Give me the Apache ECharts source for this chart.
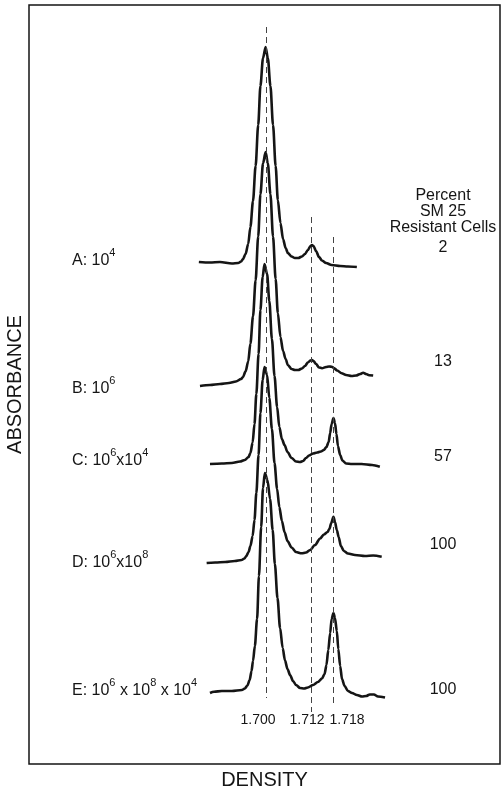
<!DOCTYPE html>
<html>
<head>
<meta charset="utf-8">
<script src="https://cdn.jsdelivr.net/npm/echarts@6.0.0/dist/echarts.min.js"></script>
<style>
  html, body { margin: 0; padding: 0; background: #fff; }
  #chart { width: 503px; height: 792px; }
</style>
</head>
<body>
<div id="chart"></div>
<script>
// [density, absorbance above the trace's own baseline]
const traceA = [
  [1.6818, 0.01], [1.6848, 0.005], [1.6875, 0.01], [1.6907, -0.005], [1.6924, 0.0],
  [1.6932, 0.015], [1.6937, 0.04], [1.6944, 0.09], [1.6951, 0.19], [1.6957, 0.36],
  [1.6964, 0.62], [1.6971, 0.97], [1.6978, 1.38], [1.6984, 1.77], [1.6991, 2.05],
  [1.6998, 2.16], [1.7004, 2.05], [1.7011, 1.77], [1.7018, 1.38], [1.7025, 0.97],
  [1.7031, 0.63], [1.7038, 0.40], [1.7045, 0.24], [1.7052, 0.15], [1.7058, 0.10],
  [1.7068, 0.065], [1.7077, 0.05], [1.7086, 0.05], [1.7096, 0.065], [1.7104, 0.09],
  [1.7112, 0.13], [1.7119, 0.17], [1.7123, 0.18], [1.7127, 0.17], [1.7134, 0.12],
  [1.7142, 0.06], [1.7150, 0.025], [1.7161, 0.0], [1.7176, -0.02], [1.7199, -0.03],
  [1.7220, -0.035], [1.7244, -0.04]
]
const traceB = [
  [1.6821, -0.01], [1.6848, 0.0], [1.6875, 0.01], [1.6899, 0.02], [1.6918, 0.035],
  [1.6932, 0.06], [1.6937, 0.08], [1.6944, 0.136], [1.6951, 0.235], [1.6957, 0.414],
  [1.6964, 0.686], [1.6971, 1.046], [1.6978, 1.484], [1.6984, 1.908], [1.6991, 2.216],
  [1.6998, 2.33], [1.7004, 2.216], [1.7011, 1.908], [1.7018, 1.484], [1.7025, 1.06],
  [1.7031, 0.72], [1.7038, 0.48], [1.7045, 0.34], [1.7052, 0.26], [1.7058, 0.20],
  [1.7068, 0.16], [1.7077, 0.15], [1.7086, 0.15], [1.7096, 0.165], [1.7104, 0.19],
  [1.7112, 0.225], [1.7119, 0.245], [1.7123, 0.25], [1.7127, 0.24], [1.7134, 0.21],
  [1.7142, 0.175], [1.7150, 0.168], [1.7161, 0.18], [1.7169, 0.185], [1.7176, 0.183],
  [1.7182, 0.17], [1.7191, 0.145], [1.7203, 0.117], [1.7215, 0.10], [1.7230, 0.09],
  [1.7242, 0.095], [1.7253, 0.11], [1.7261, 0.123], [1.7269, 0.11], [1.7277, 0.098],
  [1.7288, 0.095]
]
const traceC = [
  [1.6848, 0.0], [1.6880, 0.005], [1.6907, 0.01], [1.6929, 0.025], [1.6942, 0.04],
  [1.6952, 0.07], [1.6957, 0.11], [1.6963, 0.215], [1.6968, 0.40], [1.6973, 0.70],
  [1.6979, 1.10], [1.6984, 1.54], [1.6990, 1.87], [1.6995, 2.0], [1.7002, 1.90],
  [1.7008, 1.63], [1.7015, 1.25], [1.7022, 0.88], [1.7029, 0.57], [1.7035, 0.37],
  [1.7042, 0.25], [1.7049, 0.19], [1.7057, 0.12], [1.7068, 0.06], [1.7080, 0.025],
  [1.7091, 0.02], [1.7099, 0.03], [1.7107, 0.06], [1.7115, 0.085], [1.7126, 0.105],
  [1.7137, 0.115], [1.7147, 0.125], [1.7155, 0.14], [1.7162, 0.17], [1.7168, 0.22],
  [1.7172, 0.31], [1.7176, 0.40], [1.7181, 0.46], [1.7185, 0.41], [1.7189, 0.30],
  [1.7193, 0.18], [1.7199, 0.09], [1.7205, 0.035], [1.7215, 0.005], [1.7231, 0.0],
  [1.7257, 0.0], [1.7285, -0.01], [1.7306, -0.027]
]
const traceD = [
  [1.6839, 0.0], [1.6862, 0.005], [1.6889, 0.01], [1.6915, 0.02], [1.6933, 0.03],
  [1.6941, 0.045], [1.6946, 0.07], [1.6952, 0.11], [1.6957, 0.17], [1.6963, 0.27],
  [1.6968, 0.43], [1.6973, 0.70], [1.6979, 1.08], [1.6984, 1.50], [1.6990, 1.83],
  [1.6995, 1.96], [1.7002, 1.88], [1.7008, 1.65], [1.7015, 1.34], [1.7022, 1.0],
  [1.7029, 0.74], [1.7035, 0.56], [1.7042, 0.42], [1.7049, 0.31], [1.7057, 0.22],
  [1.7068, 0.155], [1.7080, 0.11], [1.7095, 0.097], [1.7107, 0.105], [1.7118, 0.13],
  [1.7131, 0.18], [1.7145, 0.245], [1.7155, 0.285], [1.7165, 0.31], [1.7170, 0.34],
  [1.7175, 0.40], [1.7181, 0.463], [1.7185, 0.41], [1.7190, 0.33], [1.7195, 0.26],
  [1.7201, 0.17], [1.7209, 0.12], [1.7220, 0.095], [1.7239, 0.08], [1.7266, 0.07],
  [1.7288, 0.075], [1.7311, 0.063]
]
const traceE = [
  [1.6848, -0.02], [1.6859, -0.007], [1.6880, 0.0], [1.6907, 0.0], [1.6934, 0.01],
  [1.6942, 0.025], [1.6949, 0.055], [1.6955, 0.11], [1.6960, 0.20], [1.6964, 0.30],
  [1.6969, 0.45], [1.6975, 0.72], [1.6980, 1.15], [1.6986, 1.64], [1.6991, 2.03],
  [1.6996, 2.18], [1.7003, 2.11], [1.7010, 1.92], [1.7017, 1.61], [1.7023, 1.27],
  [1.7030, 0.93], [1.7037, 0.63], [1.7044, 0.43], [1.7050, 0.31], [1.7057, 0.22],
  [1.7064, 0.16], [1.7072, 0.10], [1.7080, 0.06], [1.7091, 0.03], [1.7102, 0.025],
  [1.7112, 0.035], [1.7126, 0.06], [1.7139, 0.09], [1.7150, 0.125], [1.7157, 0.17],
  [1.7162, 0.26], [1.7167, 0.41], [1.7172, 0.58], [1.7176, 0.72], [1.7181, 0.78],
  [1.7185, 0.73], [1.7190, 0.60], [1.7194, 0.42], [1.7199, 0.25], [1.7204, 0.12],
  [1.7211, 0.05], [1.7220, 0.0], [1.7231, -0.02], [1.7244, -0.04], [1.7258, -0.055],
  [1.7269, -0.05], [1.7279, -0.035], [1.7290, -0.035], [1.7301, -0.055], [1.7320, -0.065]
]
const traces = [traceA, traceB, traceC, traceD, traceE]
const traceNames = ['A', 'B', 'C', 'D', 'E']
const traceOffsets = [5.01, 3.79, 3.00, 2.01, 0.73]
// inoculum labels, exponents in {s|...}
const traceLabels = [
  '{n|A: 10}{s|4}',
  '{n|B: 10}{s|6}',
  '{n|C: 10}{s|6}{n|x10}{s|4}',
  '{n|D: 10}{s|6}{n|x10}{s|8}',
  '{n|E: 10}{s|6}{n| x 10}{s|8}{n| x 10}{s|4}'
]
const percentResistant = ['2', '13', '57', '100', '100']
const bandDensities = [1.700, 1.712, 1.718]
const bandLabels = ['1.700', '1.712', '1.718']

const FONT = '"Liberation Sans", Arial, sans-serif'
const INK = '#151515'

const chart = echarts.init(document.getElementById('chart'))

// where the dashed band lines start and stop (absorbance units)
const bandTop = [7.37, 5.47, 5.27]
const bandBottom = [0.66, 0.52, 0.57]

const labelY = [258, 386, 458, 560, 688]
const percentY = [248, 362, 457, 545, 690]
const bandLabelX = [258, 307, 347]

const graphic = []
traceLabels.forEach((t, i) => {
  graphic.push({
    type: 'text', x: 72, y: labelY[i], silent: true,
    style: {
      text: t, fill: INK, verticalAlign: 'middle',
      rich: {
        n: { fontSize: 16, fontFamily: FONT, color: INK, lineHeight: 22, verticalAlign: 'bottom' },
        s: { fontSize: 11, fontFamily: FONT, color: INK, lineHeight: 12, verticalAlign: 'top' }
      }
    }
  })
})
percentResistant.forEach((t, i) => {
  graphic.push({
    type: 'text', x: 443, y: percentY[i], silent: true,
    style: { text: t, font: '16px ' + FONT, fill: INK, align: 'center', verticalAlign: 'middle' }
  })
})
;['Percent', 'SM 25', 'Resistant Cells'].forEach((t, i) => {
  graphic.push({
    type: 'text', x: 443, y: 196 + i * 16, silent: true,
    style: { text: t, font: '16px ' + FONT, fill: INK, align: 'center', verticalAlign: 'middle' }
  })
})
bandLabels.forEach((t, i) => {
  graphic.push({
    type: 'text', x: bandLabelX[i], y: 720, silent: true,
    style: { text: t, font: '14px ' + FONT, fill: INK, align: 'center', verticalAlign: 'middle' }
  })
})

const series = traces.map((t, i) => ({
  name: traceNames[i],
  type: 'line',
  data: t.map(p => [p[0], +(p[1] + traceOffsets[i]).toFixed(3)]),
  symbol: 'none',
  smooth: 0.3,
  smoothMonotone: 'x',
  silent: true,
  lineStyle: { color: INK, width: 2.6 }
}))

series[0].markLine = {
  silent: true,
  symbol: 'none',
  label: { show: false },
  lineStyle: { color: '#444', width: 1, type: [6, 4] },
  data: bandDensities.map((d, i) => [
    { coord: [d, bandTop[i]] },
    { coord: [d, bandBottom[i]] }
  ])
}

chart.setOption({
  backgroundColor: '#ffffff',
  animation: false,
  grid: {
    left: 29, right: 3, top: 5, bottom: 28,
    outerBoundsMode: 'none',
    containLabel: false,
    show: true, borderColor: INK, borderWidth: 1.5
  },
  xAxis: {
    type: 'value',
    min: 1.636,
    max: 1.763,
    name: 'DENSITY',
    nameLocation: 'middle',
    nameGap: 6,
    nameTextStyle: { fontSize: 20, fontFamily: FONT, color: INK },
    axisLine: { show: false },
    axisTick: { show: false },
    axisLabel: { show: false },
    splitLine: { show: false }
  },
  yAxis: {
    type: 'value',
    min: 0,
    max: 7.59,
    name: 'ABSORBANCE',
    nameLocation: 'middle',
    nameGap: 4,
    nameTextStyle: { fontSize: 20, fontFamily: FONT, color: INK },
    axisLine: { show: false },
    axisTick: { show: false },
    axisLabel: { show: false },
    splitLine: { show: false }
  },
  graphic: graphic,
  series: series
})
</script>
</body>
</html>
